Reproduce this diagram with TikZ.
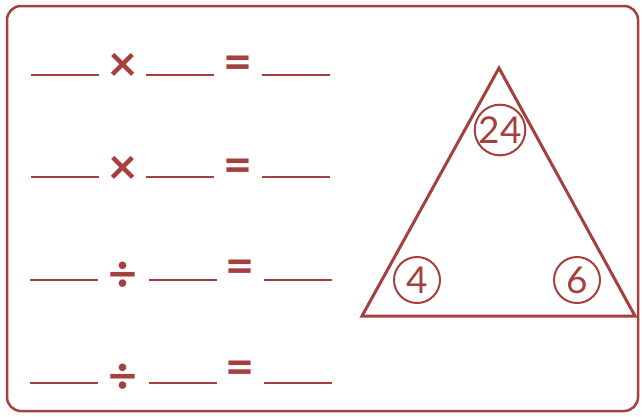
\documentclass[tikz,border=0pt]{standalone}
\usepackage{fontspec}
\setmainfont{Lato}
\usepackage{tikz}
\usetikzlibrary{positioning}
\definecolor{ink}{HTML}{A5403E}
\tikzset{
  frame/.style = {draw=ink, line width=2.5pt, rounded corners=14pt},
  blank/.style = {minimum width=67pt, minimum height=0pt, inner sep=0pt},
  rule/.style  = {draw=ink, line width=2.2pt},
  op/.style    = {text=ink, inner sep=0pt,
                  font=\fontsize{50}{50}\selectfont\bfseries},
  tri/.style   = {draw=ink, line width=3pt, line join=miter},
  num/.style   = {circle, draw=ink, line width=2pt, minimum size=46pt,
                  inner sep=0pt, text=ink, font=\fontsize{37}{37}\selectfont},
}

\begin{document}
\begin{tikzpicture}[x=1pt, y=-1pt]
  \useasboundingbox (0,0) rectangle (642,416);

  % ----- frame -----
  \draw[frame] (7,6) rectangle (638,411);

  % ----- row 1 -----
  \node[blank] (b11) at (65,75) {};
  \node[op]    (o11) at (123,67) {×};
  \node[blank] (b12) at (180,75) {};
  \node[op]    (e1)  at (238,68) {=};
  \node[blank] (b13) at (296,75) {};

  % ----- row 2 -----
  \node[blank] (b21) at (65,177) {};
  \node[op]    (o21) at (123,170) {×};
  \node[blank] (b22) at (180,177) {};
  \node[op]    (e2)  at (238,171) {=};
  \node[blank] (b23) at (296,177) {};

  % ----- row 3 -----
  \node[blank] (b31) at (64,280) {};
  \node[op]    (o31) at (123,277) {÷};
  \node[blank] (b32) at (183,280) {};
  \node[op]    (e3)  at (240,272) {=};
  \node[blank] (b33) at (298,280) {};

  % ----- row 4 -----
  \node[blank] (b41) at (64,383) {};
  \node[op]    (o41) at (123,379) {÷};
  \node[blank] (b42) at (183,383) {};
  \node[op]    (e4)  at (240,373) {=};
  \node[blank] (b43) at (298,383) {};

  \foreach \r in {1,2,3,4}
    \foreach \c in {1,2,3}
      \draw[rule] (b\r\c.west) -- (b\r\c.east);

  % ----- triangle -----
  \coordinate (apex)  at (499,68);
  \coordinate (left)  at (362,316);
  \coordinate (right) at (635,316);
  \draw[tri] (apex) -- (left) -- (right) -- cycle;

  \node[num] (n24) at (500,130) {24};
  \node[num] (n4)  at (417,280) {4};
  \node[num] (n6)  at (577,280) {6};

\end{tikzpicture}
\end{document}
